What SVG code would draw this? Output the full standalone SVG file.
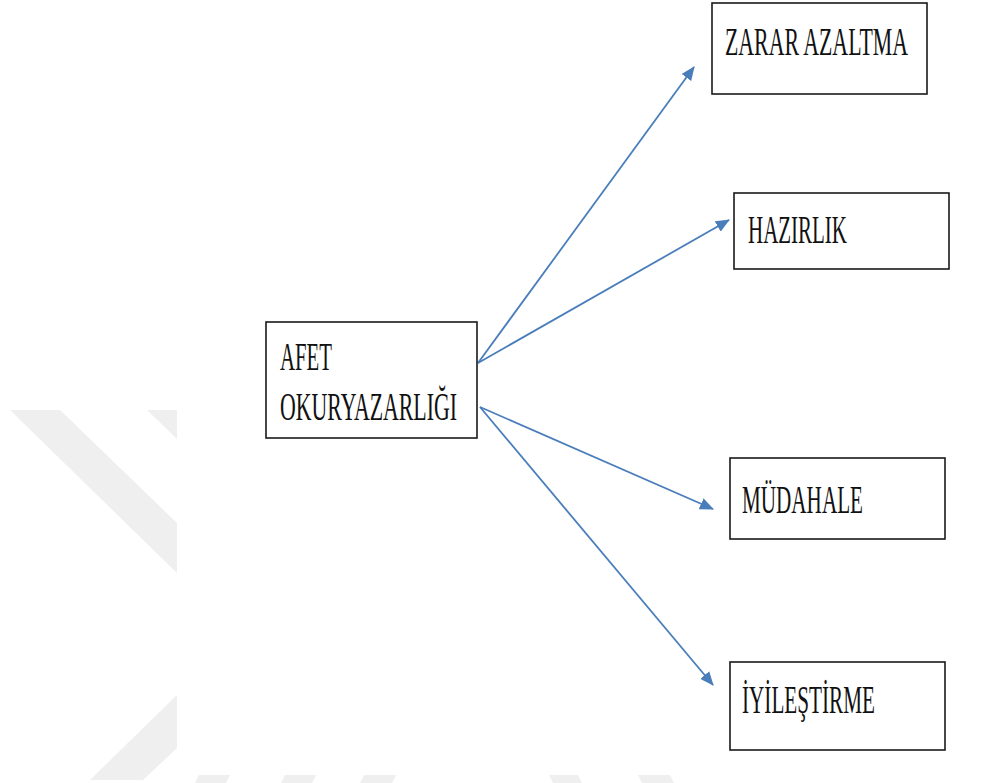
<svg xmlns="http://www.w3.org/2000/svg" width="993" height="783" viewBox="0 0 993 783">
  <style>
    .box { fill: #ffffff; stroke: #1a1a1a; stroke-width: 1.6; }
    .lbl { font-family: "Liberation Serif", "Times New Roman", serif; font-size: 40px; fill: #111111; }
    .conn { stroke: #4a7ebb; stroke-width: 1.8; fill: none; marker-end: url(#arrow); }
    .wm { fill: #efefef; stroke: none; }
  </style>
  <defs>
    <marker id="arrow" viewBox="0 0 14 12" refX="13" refY="6" markerWidth="14" markerHeight="12" markerUnits="userSpaceOnUse" orient="auto">
      <path d="M0,0 L14,6 L0,12 Z" fill="#4a7ebb"/>
    </marker>
  </defs>
  <rect width="993" height="783" fill="#ffffff"/>
  <g id="watermark">
    <polygon class="wm" points="10,410 60,410 177,523 177,573"/>
    <polygon class="wm" points="147,410 177,410 177,439"/>
    <polygon class="wm" points="177,695 177,748 143,780 90,780"/>
    <polygon class="wm" points="199,775 230,775 226,783 195,783"/>
    <polygon class="wm" points="285,775 316,775 312,783 281,783"/>
    <polygon class="wm" points="364,775 396,775 392,783 360,783"/>
    <polygon class="wm" points="549,775 578,775 582,783 553,783"/>
    <polygon class="wm" points="638,775 670,775 674,783 642,783"/>
  </g>
  <g id="connectors">
    <line class="conn" x1="478" y1="363" x2="694" y2="67"/>
    <line class="conn" x1="478" y1="363" x2="729" y2="220"/>
    <line class="conn" x1="480" y1="407" x2="713" y2="509"/>
    <line class="conn" x1="480" y1="407" x2="713" y2="685"/>
  </g>
  <g id="afet-okuryazarligi">
    <rect class="box" x="266" y="322" width="211" height="116"/>
    <text class="lbl" x="280" y="370" textLength="52" lengthAdjust="spacingAndGlyphs">AFET</text>
    <text class="lbl" x="280" y="420" textLength="177" lengthAdjust="spacingAndGlyphs">OKURYAZARLIĞI</text>
  </g>
  <g id="zarar-azaltma">
    <rect class="box" x="712" y="3" width="215" height="91"/>
    <text class="lbl" x="725" y="55" textLength="183" lengthAdjust="spacingAndGlyphs">ZARAR AZALTMA</text>
  </g>
  <g id="hazirlik">
    <rect class="box" x="734" y="193" width="215" height="76"/>
    <text class="lbl" x="748" y="243" textLength="99" lengthAdjust="spacingAndGlyphs">HAZIRLIK</text>
  </g>
  <g id="mudahale">
    <rect class="box" x="730" y="458" width="215" height="81"/>
    <text class="lbl" x="742" y="513" textLength="121" lengthAdjust="spacingAndGlyphs">MÜDAHALE</text>
  </g>
  <g id="iyilestirme">
    <rect class="box" x="730" y="662" width="215" height="88"/>
    <text class="lbl" x="742" y="713" textLength="133" lengthAdjust="spacingAndGlyphs">İYİLEŞTİRME</text>
  </g>
</svg>
